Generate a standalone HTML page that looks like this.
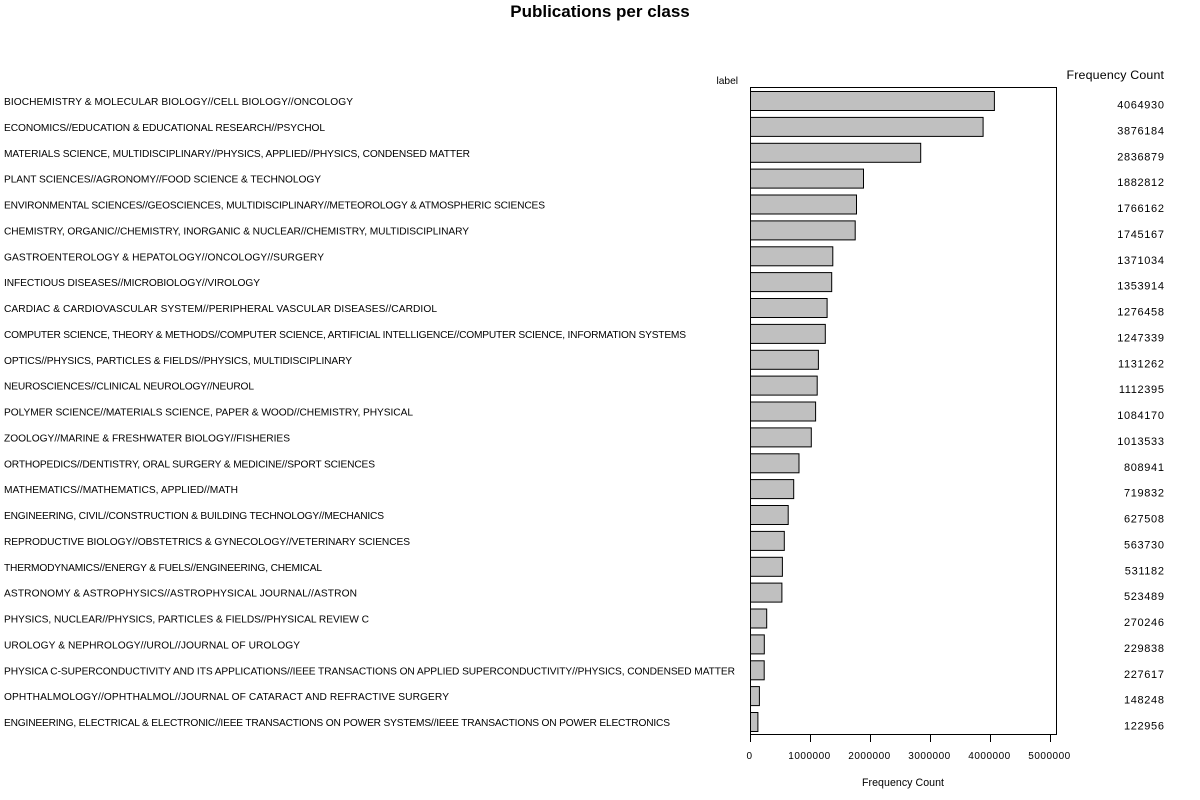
<!DOCTYPE html>
<html><head><meta charset="utf-8"><style>
html,body{margin:0;padding:0;background:#fff;}
svg{display:block;}
text{font-family:"Liberation Sans",Arial,sans-serif;fill:#000;}
.lab{font-size:10.2px;}
.val{font-size:11px;letter-spacing:0.65px;}
.tk{font-size:10px;letter-spacing:0.5px;}
</style></head><body>
<svg width="1200" height="800" viewBox="0 0 1200 800" xmlns="http://www.w3.org/2000/svg">
<rect width="1200" height="800" fill="#fff"/>
<text x="600" y="17" text-anchor="middle" style="font-size:17px;font-weight:bold;">Publications per class</text>
<text x="716.5" y="84" style="font-size:10.2px;">label</text>
<text x="1066.5" y="79" textLength="97.5" lengthAdjust="spacing" style="font-size:12.4px;">Frequency Count</text>
<rect x="750.5" y="87.5" width="306" height="647" fill="none" stroke="#000" stroke-width="1"/>
<g fill="#c0c0c0" stroke="#000" stroke-width="1">
<rect x="750.5" y="91.5" width="243.9" height="19"/>
<rect x="750.5" y="117.4" width="232.6" height="19"/>
<rect x="750.5" y="143.3" width="170.2" height="19"/>
<rect x="750.5" y="169.1" width="113.0" height="19"/>
<rect x="750.5" y="195.0" width="106.0" height="19"/>
<rect x="750.5" y="220.9" width="104.7" height="19"/>
<rect x="750.5" y="246.8" width="82.3" height="19"/>
<rect x="750.5" y="272.6" width="81.2" height="19"/>
<rect x="750.5" y="298.5" width="76.6" height="19"/>
<rect x="750.5" y="324.4" width="74.8" height="19"/>
<rect x="750.5" y="350.3" width="67.9" height="19"/>
<rect x="750.5" y="376.1" width="66.7" height="19"/>
<rect x="750.5" y="402.0" width="65.1" height="19"/>
<rect x="750.5" y="427.9" width="60.8" height="19"/>
<rect x="750.5" y="453.8" width="48.5" height="19"/>
<rect x="750.5" y="479.6" width="43.2" height="19"/>
<rect x="750.5" y="505.5" width="37.7" height="19"/>
<rect x="750.5" y="531.4" width="33.8" height="19"/>
<rect x="750.5" y="557.3" width="31.9" height="19"/>
<rect x="750.5" y="583.1" width="31.4" height="19"/>
<rect x="750.5" y="609.0" width="16.2" height="19"/>
<rect x="750.5" y="634.9" width="13.8" height="19"/>
<rect x="750.5" y="660.8" width="13.7" height="19"/>
<rect x="750.5" y="686.6" width="8.9" height="19"/>
<rect x="750.5" y="712.5" width="7.4" height="19"/>
</g>
<g>
<text class="lab" x="4" y="105" textLength="349" lengthAdjust="spacing">BIOCHEMISTRY &amp; MOLECULAR BIOLOGY//CELL BIOLOGY//ONCOLOGY</text>
<text class="lab" x="4" y="130.9" textLength="321" lengthAdjust="spacing">ECONOMICS//EDUCATION &amp; EDUCATIONAL RESEARCH//PSYCHOL</text>
<text class="lab" x="4" y="156.8" textLength="466" lengthAdjust="spacing">MATERIALS SCIENCE, MULTIDISCIPLINARY//PHYSICS, APPLIED//PHYSICS, CONDENSED MATTER</text>
<text class="lab" x="4" y="182.6" textLength="317" lengthAdjust="spacing">PLANT SCIENCES//AGRONOMY//FOOD SCIENCE &amp; TECHNOLOGY</text>
<text class="lab" x="4" y="208.5" textLength="541" lengthAdjust="spacing">ENVIRONMENTAL SCIENCES//GEOSCIENCES, MULTIDISCIPLINARY//METEOROLOGY &amp; ATMOSPHERIC SCIENCES</text>
<text class="lab" x="4" y="234.4" textLength="465" lengthAdjust="spacing">CHEMISTRY, ORGANIC//CHEMISTRY, INORGANIC &amp; NUCLEAR//CHEMISTRY, MULTIDISCIPLINARY</text>
<text class="lab" x="4" y="260.3" textLength="320" lengthAdjust="spacing">GASTROENTEROLOGY &amp; HEPATOLOGY//ONCOLOGY//SURGERY</text>
<text class="lab" x="4" y="286.1" textLength="256" lengthAdjust="spacing">INFECTIOUS DISEASES//MICROBIOLOGY//VIROLOGY</text>
<text class="lab" x="4" y="312" textLength="433" lengthAdjust="spacing">CARDIAC &amp; CARDIOVASCULAR SYSTEM//PERIPHERAL VASCULAR DISEASES//CARDIOL</text>
<text class="lab" x="4" y="337.9" textLength="682" lengthAdjust="spacing">COMPUTER SCIENCE, THEORY &amp; METHODS//COMPUTER SCIENCE, ARTIFICIAL INTELLIGENCE//COMPUTER SCIENCE, INFORMATION SYSTEMS</text>
<text class="lab" x="4" y="363.8" textLength="348" lengthAdjust="spacing">OPTICS//PHYSICS, PARTICLES &amp; FIELDS//PHYSICS, MULTIDISCIPLINARY</text>
<text class="lab" x="4" y="389.6" textLength="250" lengthAdjust="spacing">NEUROSCIENCES//CLINICAL NEUROLOGY//NEUROL</text>
<text class="lab" x="4" y="415.5" textLength="409" lengthAdjust="spacing">POLYMER SCIENCE//MATERIALS SCIENCE, PAPER &amp; WOOD//CHEMISTRY, PHYSICAL</text>
<text class="lab" x="4" y="441.4" textLength="286" lengthAdjust="spacing">ZOOLOGY//MARINE &amp; FRESHWATER BIOLOGY//FISHERIES</text>
<text class="lab" x="4" y="467.3" textLength="371" lengthAdjust="spacing">ORTHOPEDICS//DENTISTRY, ORAL SURGERY &amp; MEDICINE//SPORT SCIENCES</text>
<text class="lab" x="4" y="493.1" textLength="234" lengthAdjust="spacing">MATHEMATICS//MATHEMATICS, APPLIED//MATH</text>
<text class="lab" x="4" y="519" textLength="380" lengthAdjust="spacing">ENGINEERING, CIVIL//CONSTRUCTION &amp; BUILDING TECHNOLOGY//MECHANICS</text>
<text class="lab" x="4" y="544.9" textLength="406" lengthAdjust="spacing">REPRODUCTIVE BIOLOGY//OBSTETRICS &amp; GYNECOLOGY//VETERINARY SCIENCES</text>
<text class="lab" x="4" y="570.8" textLength="318" lengthAdjust="spacing">THERMODYNAMICS//ENERGY &amp; FUELS//ENGINEERING, CHEMICAL</text>
<text class="lab" x="4" y="596.6" textLength="353" lengthAdjust="spacing">ASTRONOMY &amp; ASTROPHYSICS//ASTROPHYSICAL JOURNAL//ASTRON</text>
<text class="lab" x="4" y="622.5" textLength="365" lengthAdjust="spacing">PHYSICS, NUCLEAR//PHYSICS, PARTICLES &amp; FIELDS//PHYSICAL REVIEW C</text>
<text class="lab" x="4" y="648.4" textLength="296" lengthAdjust="spacing">UROLOGY &amp; NEPHROLOGY//UROL//JOURNAL OF UROLOGY</text>
<text class="lab" x="4" y="674.3" textLength="731" lengthAdjust="spacing">PHYSICA C-SUPERCONDUCTIVITY AND ITS APPLICATIONS//IEEE TRANSACTIONS ON APPLIED SUPERCONDUCTIVITY//PHYSICS, CONDENSED MATTER</text>
<text class="lab" x="4" y="700.1" textLength="445" lengthAdjust="spacing">OPHTHALMOLOGY//OPHTHALMOL//JOURNAL OF CATARACT AND REFRACTIVE SURGERY</text>
<text class="lab" x="4" y="726" textLength="666" lengthAdjust="spacing">ENGINEERING, ELECTRICAL &amp; ELECTRONIC//IEEE TRANSACTIONS ON POWER SYSTEMS//IEEE TRANSACTIONS ON POWER ELECTRONICS</text>
</g>
<g text-anchor="end">
<text class="val" x="1164.6" y="108.5">4064930</text>
<text class="val" x="1164.6" y="134.4">3876184</text>
<text class="val" x="1164.6" y="160.3">2836879</text>
<text class="val" x="1164.6" y="186.1">1882812</text>
<text class="val" x="1164.6" y="212">1766162</text>
<text class="val" x="1164.6" y="237.9">1745167</text>
<text class="val" x="1164.6" y="263.8">1371034</text>
<text class="val" x="1164.6" y="289.6">1353914</text>
<text class="val" x="1164.6" y="315.5">1276458</text>
<text class="val" x="1164.6" y="341.4">1247339</text>
<text class="val" x="1164.6" y="367.3">1131262</text>
<text class="val" x="1164.6" y="393.1">1112395</text>
<text class="val" x="1164.6" y="419">1084170</text>
<text class="val" x="1164.6" y="444.9">1013533</text>
<text class="val" x="1164.6" y="470.8">808941</text>
<text class="val" x="1164.6" y="496.6">719832</text>
<text class="val" x="1164.6" y="522.5">627508</text>
<text class="val" x="1164.6" y="548.4">563730</text>
<text class="val" x="1164.6" y="574.3">531182</text>
<text class="val" x="1164.6" y="600.1">523489</text>
<text class="val" x="1164.6" y="626">270246</text>
<text class="val" x="1164.6" y="651.9">229838</text>
<text class="val" x="1164.6" y="677.8">227617</text>
<text class="val" x="1164.6" y="703.6">148248</text>
<text class="val" x="1164.6" y="729.5">122956</text>
</g>
<g stroke="#000" stroke-width="1">
<line x1="750.5" y1="734.5" x2="750.5" y2="742"/>
<line x1="810.5" y1="734.5" x2="810.5" y2="742"/>
<line x1="870.5" y1="734.5" x2="870.5" y2="742"/>
<line x1="930.5" y1="734.5" x2="930.5" y2="742"/>
<line x1="990.5" y1="734.5" x2="990.5" y2="742"/>
<line x1="1050.5" y1="734.5" x2="1050.5" y2="742"/>
</g>
<g text-anchor="middle">
<text class="tk" x="749.5" y="759">0</text>
<text class="tk" x="809.5" y="759">1000000</text>
<text class="tk" x="869.5" y="759">2000000</text>
<text class="tk" x="929.5" y="759">3000000</text>
<text class="tk" x="989.5" y="759">4000000</text>
<text class="tk" x="1049.5" y="759">5000000</text>
</g>
<text x="862" y="786" textLength="82" lengthAdjust="spacing" style="font-size:10.6px;">Frequency Count</text>
</svg>
</body></html>
